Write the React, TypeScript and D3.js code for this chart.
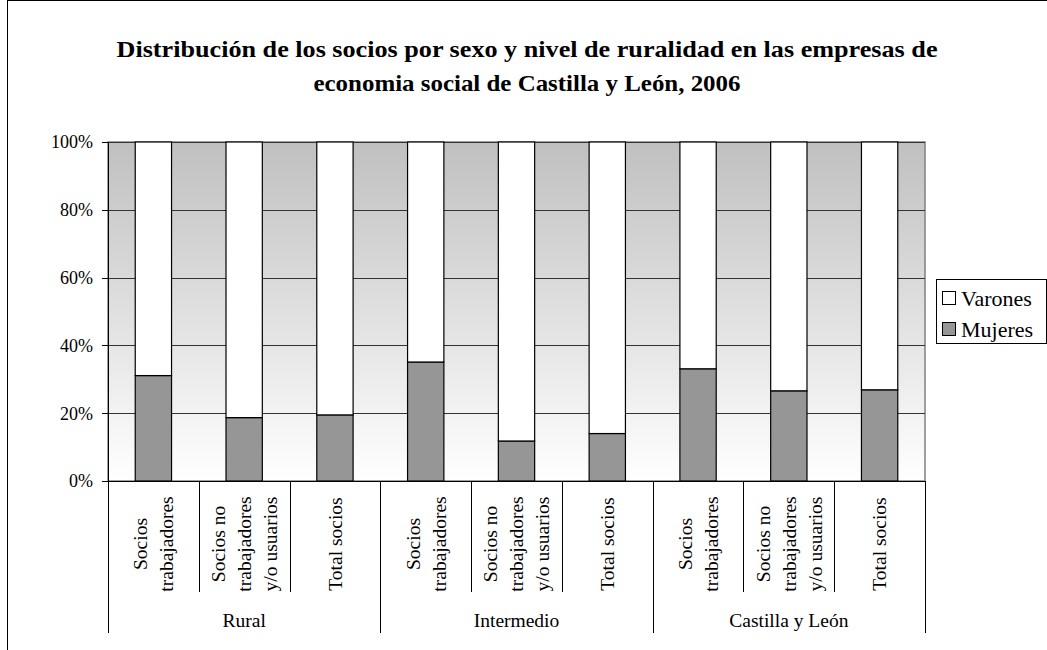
import React from 'react';
import * as d3 from 'd3';

const groups = ['Rural', 'Intermedio', 'Castilla y León'];
const subLabels = [['Socios', 'trabajadores'], ['Socios no', 'trabajadores', 'y/o usuarios'], ['Total socios']];
const mujeres = [31.1, 18.7, 19.5, 35.1, 11.8, 14.0, 33.1, 26.6, 26.9];
const varones = [68.9, 81.3, 80.5, 64.9, 88.2, 86.0, 66.9, 73.4, 73.1];
const yTicks = [0, 20, 40, 60, 80, 100];
const seriesNames = ['Mujeres', 'Varones'];
const seriesColors = ['#969696', '#ffffff'];
const titleLines = [
  'Distribución de los socios por sexo y nivel de ruralidad en las empresas de',
  'economia social de Castilla y León, 2006',
];

const W = 1047;
const H = 650;
const font = 'Liberation Serif';

const rows = mujeres.map((m, i) => ({ idx: i, Mujeres: m, Varones: varones[i] }));

export default function App() {
  const left = 108, right = 925, top = 142, bottom = 481;
  const x = d3.scaleBand<number>().domain(d3.range(rows.length)).range([left, right]).paddingInner(0.6).paddingOuter(0.3);
  const y = d3.scaleLinear().domain([0, 100]).range([bottom, top]);
  const stack = d3.stack<any>().keys(seriesNames);
  const layers = stack(rows);
  const step = x.step();
  const perGroup = subLabels.length;
  const crisp = (v: number) => Math.round(v) + 0.5;
  const titleWidths = [821, 427]; // stretch to match the original's wider face

  return (
    <div style={{ position: 'absolute', left: 0, top: 0 }}>
      <svg width={W} height={H} fontFamily={font} style={{ display: 'block' }}>
        <defs>
          <linearGradient id="bg" x1="0" y1="0" x2="0" y2="1">
            <stop offset="0" stopColor="#c0c0c0" />
            <stop offset="1" stopColor="#ffffff" />
          </linearGradient>
        </defs>
        <rect x={0} y={0} width={W} height={H} fill="#fff" />
        <rect x={7.5} y={0.5} width={W + 20} height={H + 20} fill="none" stroke="#000" />

        {titleLines.map((t, i) => (
          <text key={i} x={527} y={57 + i * 34} textAnchor="middle" fontWeight="bold" fontSize={24} fontFamily={font}
            textLength={titleWidths[i]} lengthAdjust="spacingAndGlyphs">
            {t}
          </text>
        ))}

        {/* plot area */}
        <rect x={left} y={top} width={right - left} height={bottom - top} fill="url(#bg)" stroke="#808080" strokeWidth={1.5} />
        {yTicks.filter(t => t > 0).map(t => (
          <line key={t} x1={left} x2={right} y1={crisp(y(t))} y2={crisp(y(t))} stroke="#333" strokeWidth={1} />
        ))}

        {layers.map((layer, li) => (
          <g key={layer.key}>
            {layer.map((d, i) => (
              <rect key={i} x={x(i)!} y={y(d[1])} width={x.bandwidth()} height={y(d[0]) - y(d[1])}
                fill={seriesColors[li]} stroke="#000" strokeWidth={1.2} />
            ))}
          </g>
        ))}

        {/* y axis */}
        <line x1={crisp(left)} x2={crisp(left)} y1={top} y2={bottom} stroke="#000" />
        {yTicks.map(t => (
          <g key={t}>
            <line x1={left - 6} x2={left} y1={crisp(y(t))} y2={crisp(y(t))} stroke="#000" />
            <text x={93} y={y(t)} dy="0.35em" textAnchor="end" fontSize={18} fontFamily={font}>{t}%</text>
          </g>
        ))}

        {/* x axis, two-level categories */}
        <line x1={left - 6} x2={right} y1={crisp(bottom)} y2={crisp(bottom)} stroke="#000" />
        {d3.range(rows.length + 1).map(k => {
          const xx = crisp(left + k * step);
          const isGroup = k % perGroup === 0;
          return <line key={k} x1={xx} x2={xx} y1={bottom} y2={isGroup ? 633 : 592} stroke="#000" />;
        })}
        {rows.map((r, i) => {
          const lines = subLabels[i % perGroup];
          const cx = left + (i + 0.5) * step;
          const lh = 26;
          return (
            <text key={i} transform={`translate(${cx},544) rotate(-90)`} textAnchor="middle" fontSize={19.5} fontFamily={font}>
              {lines.map((ln, j) => (
                <tspan key={j} x={0} y={(j - (lines.length - 1) / 2) * lh} dy="0.35em">{ln}</tspan>
              ))}
            </text>
          );
        })}
        {groups.map((g, gi) => (
          <text key={g} x={left + (gi + 0.5) * perGroup * step} y={627} textAnchor="middle" fontSize={19.5} fontFamily={font}>{g}</text>
        ))}

        {/* legend */}
        <rect x={936.5} y={279.5} width={110} height={64} fill="#fff" stroke="#000" />
        {['Varones', 'Mujeres'].map((name, i) => {
          const cy = 298 + i * 31;
          const col = seriesColors[seriesNames.indexOf(name)];
          return (
            <g key={name}>
              <rect x={942.5} y={cy - 6.5} width={13} height={13} fill={col} stroke="#000" />
              <text x={961} y={cy} dy="0.35em" fontSize={22} fontFamily={font}>{name}</text>
            </g>
          );
        })}
      </svg>
    </div>
  );
}
